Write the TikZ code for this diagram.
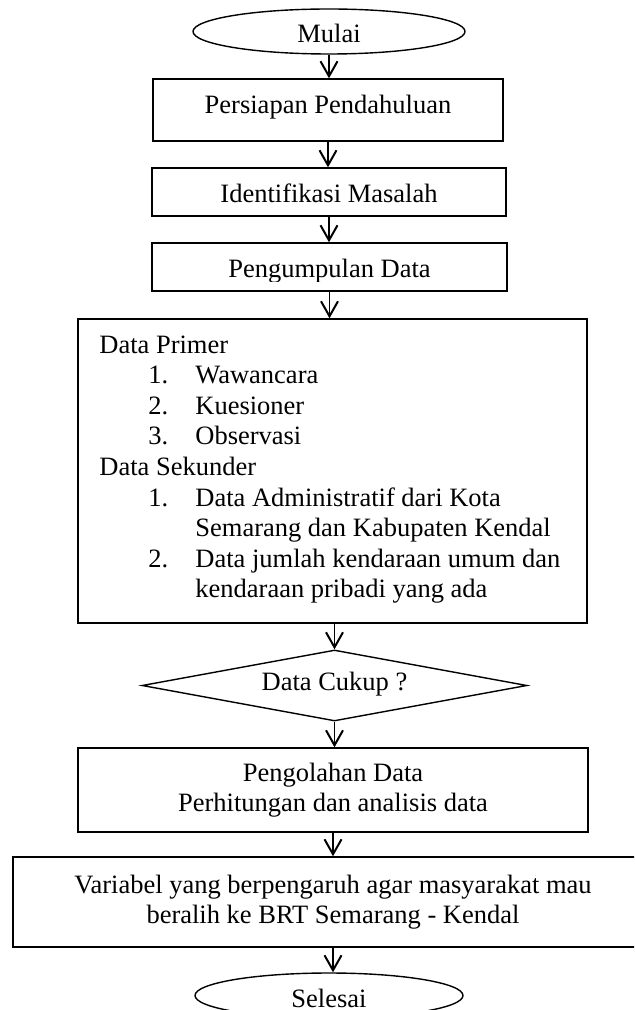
\documentclass[tikz,border=0pt]{standalone}
\usepackage{fontspec}
\setmainfont{Liberation Serif}
\usetikzlibrary{shapes.geometric,arrows.meta}
\begin{document}
\begin{tikzpicture}[x=0.5pt,y=-0.5pt,
  font=\fontsize{13.25pt}{15.3pt}\selectfont,
  box/.style={draw, line width=0.7pt, rectangle, inner sep=0pt, align=center},
  term/.style={draw, line width=0.7pt, ellipse, inner sep=0pt},
  decide/.style={draw, line width=0.7pt, diamond, shape aspect=5.4, inner sep=0pt},
  flow/.style={line width=0.8pt, -{Straight Barb[length=7.5pt,width=8.5pt,line width=1pt]}}]
\useasboundingbox (0,0) rectangle (634,1010);
\fill[white] (0,0) rectangle (634,1010);
\clip (0,0) rectangle (634,1010);

% terminals and process boxes
\node[term, minimum width=136pt, minimum height=22.5pt,
      text height=13pt, text depth=2pt] (start) at (329,31.5) {Mulai};
\node[box, minimum width=175pt, minimum height=31pt,
      text height=14pt, text depth=10pt] (persiapan) at (328,110) {Persiapan Pendahuluan};
\node[box, minimum width=177pt, minimum height=24pt,
      text height=13pt, text depth=2pt] (identifikasi) at (329,192) {Identifikasi Masalah};
\node[box, minimum width=177.5pt, minimum height=24pt] (kumpul) at (329.5,267) {};
\begin{scope}
  \clip (kumpul.north west) rectangle (kumpul.east |- 0,282);
  \node[inner sep=0pt, anchor=base] (kumpultxt) at (329.5,278) {Pengumpulan Data};
\end{scope}

% data collection box with its list
\node[box, minimum width=254.5pt, minimum height=152pt] (data) at (332.5,471) {};
\node[inner sep=0pt, anchor=base west] (datatxt) at (99,353) {%
\begin{tabular}[t]{@{}l@{}}
Data Primer\\
\hspace*{24.5pt}\makebox[23.5pt][l]{1.}Wawancara\\
\hspace*{24.5pt}\makebox[23.5pt][l]{2.}Kuesioner\\
\hspace*{24.5pt}\makebox[23.5pt][l]{3.}Observasi\\
Data Sekunder\\
\hspace*{24.5pt}\makebox[23.5pt][l]{1.}Data Administratif dari Kota\\
\hspace*{48pt}Semarang dan Kabupaten Kendal\\
\hspace*{24.5pt}\makebox[23.5pt][l]{2.}Data jumlah kendaraan umum dan\\
\hspace*{48pt}kendaraan pribadi yang ada
\end{tabular}};

\node[decide, minimum width=192.5pt, minimum height=35.5pt,
      text height=12pt, text depth=7.5pt] (cukup) at (334.5,685.5) {Data Cukup ?};
\node[box, minimum width=255pt, minimum height=42pt] (olah) at (333,790)
  {Pengolahan Data\\Perhitungan dan analisis data};
\node[box, font=\fontsize{13.25pt}{15pt}\selectfont, minimum width=320pt, minimum height=45pt] (hasil) at (333,902)
  {Variabel yang berpengaruh agar masyarakat mau\\beralih ke BRT Semarang - Kendal};
\node[term, minimum width=134pt, minimum height=22.5pt,
      text height=13.5pt, text depth=2pt] (selesai) at (329,995.5) {Selesai};

% connectors
\draw[flow] (start.south) -- (start.south |- persiapan.north);
\draw[flow] (persiapan.south) -- (persiapan.south |- identifikasi.north);
\draw[flow] (identifikasi.south) -- (identifikasi.south |- kumpul.north);
\draw[flow] (kumpul.south) -- (kumpul.south |- data.north);
\draw[flow] (cukup.north |- data.south) -- (cukup.north);
\draw[flow] (cukup.south) -- (cukup.south |- olah.north);
\draw[flow] (olah.south) -- (olah.south |- hasil.north);
\draw[flow] (hasil.south) -- (hasil.south |- selesai.north);
\end{tikzpicture}
\end{document}
